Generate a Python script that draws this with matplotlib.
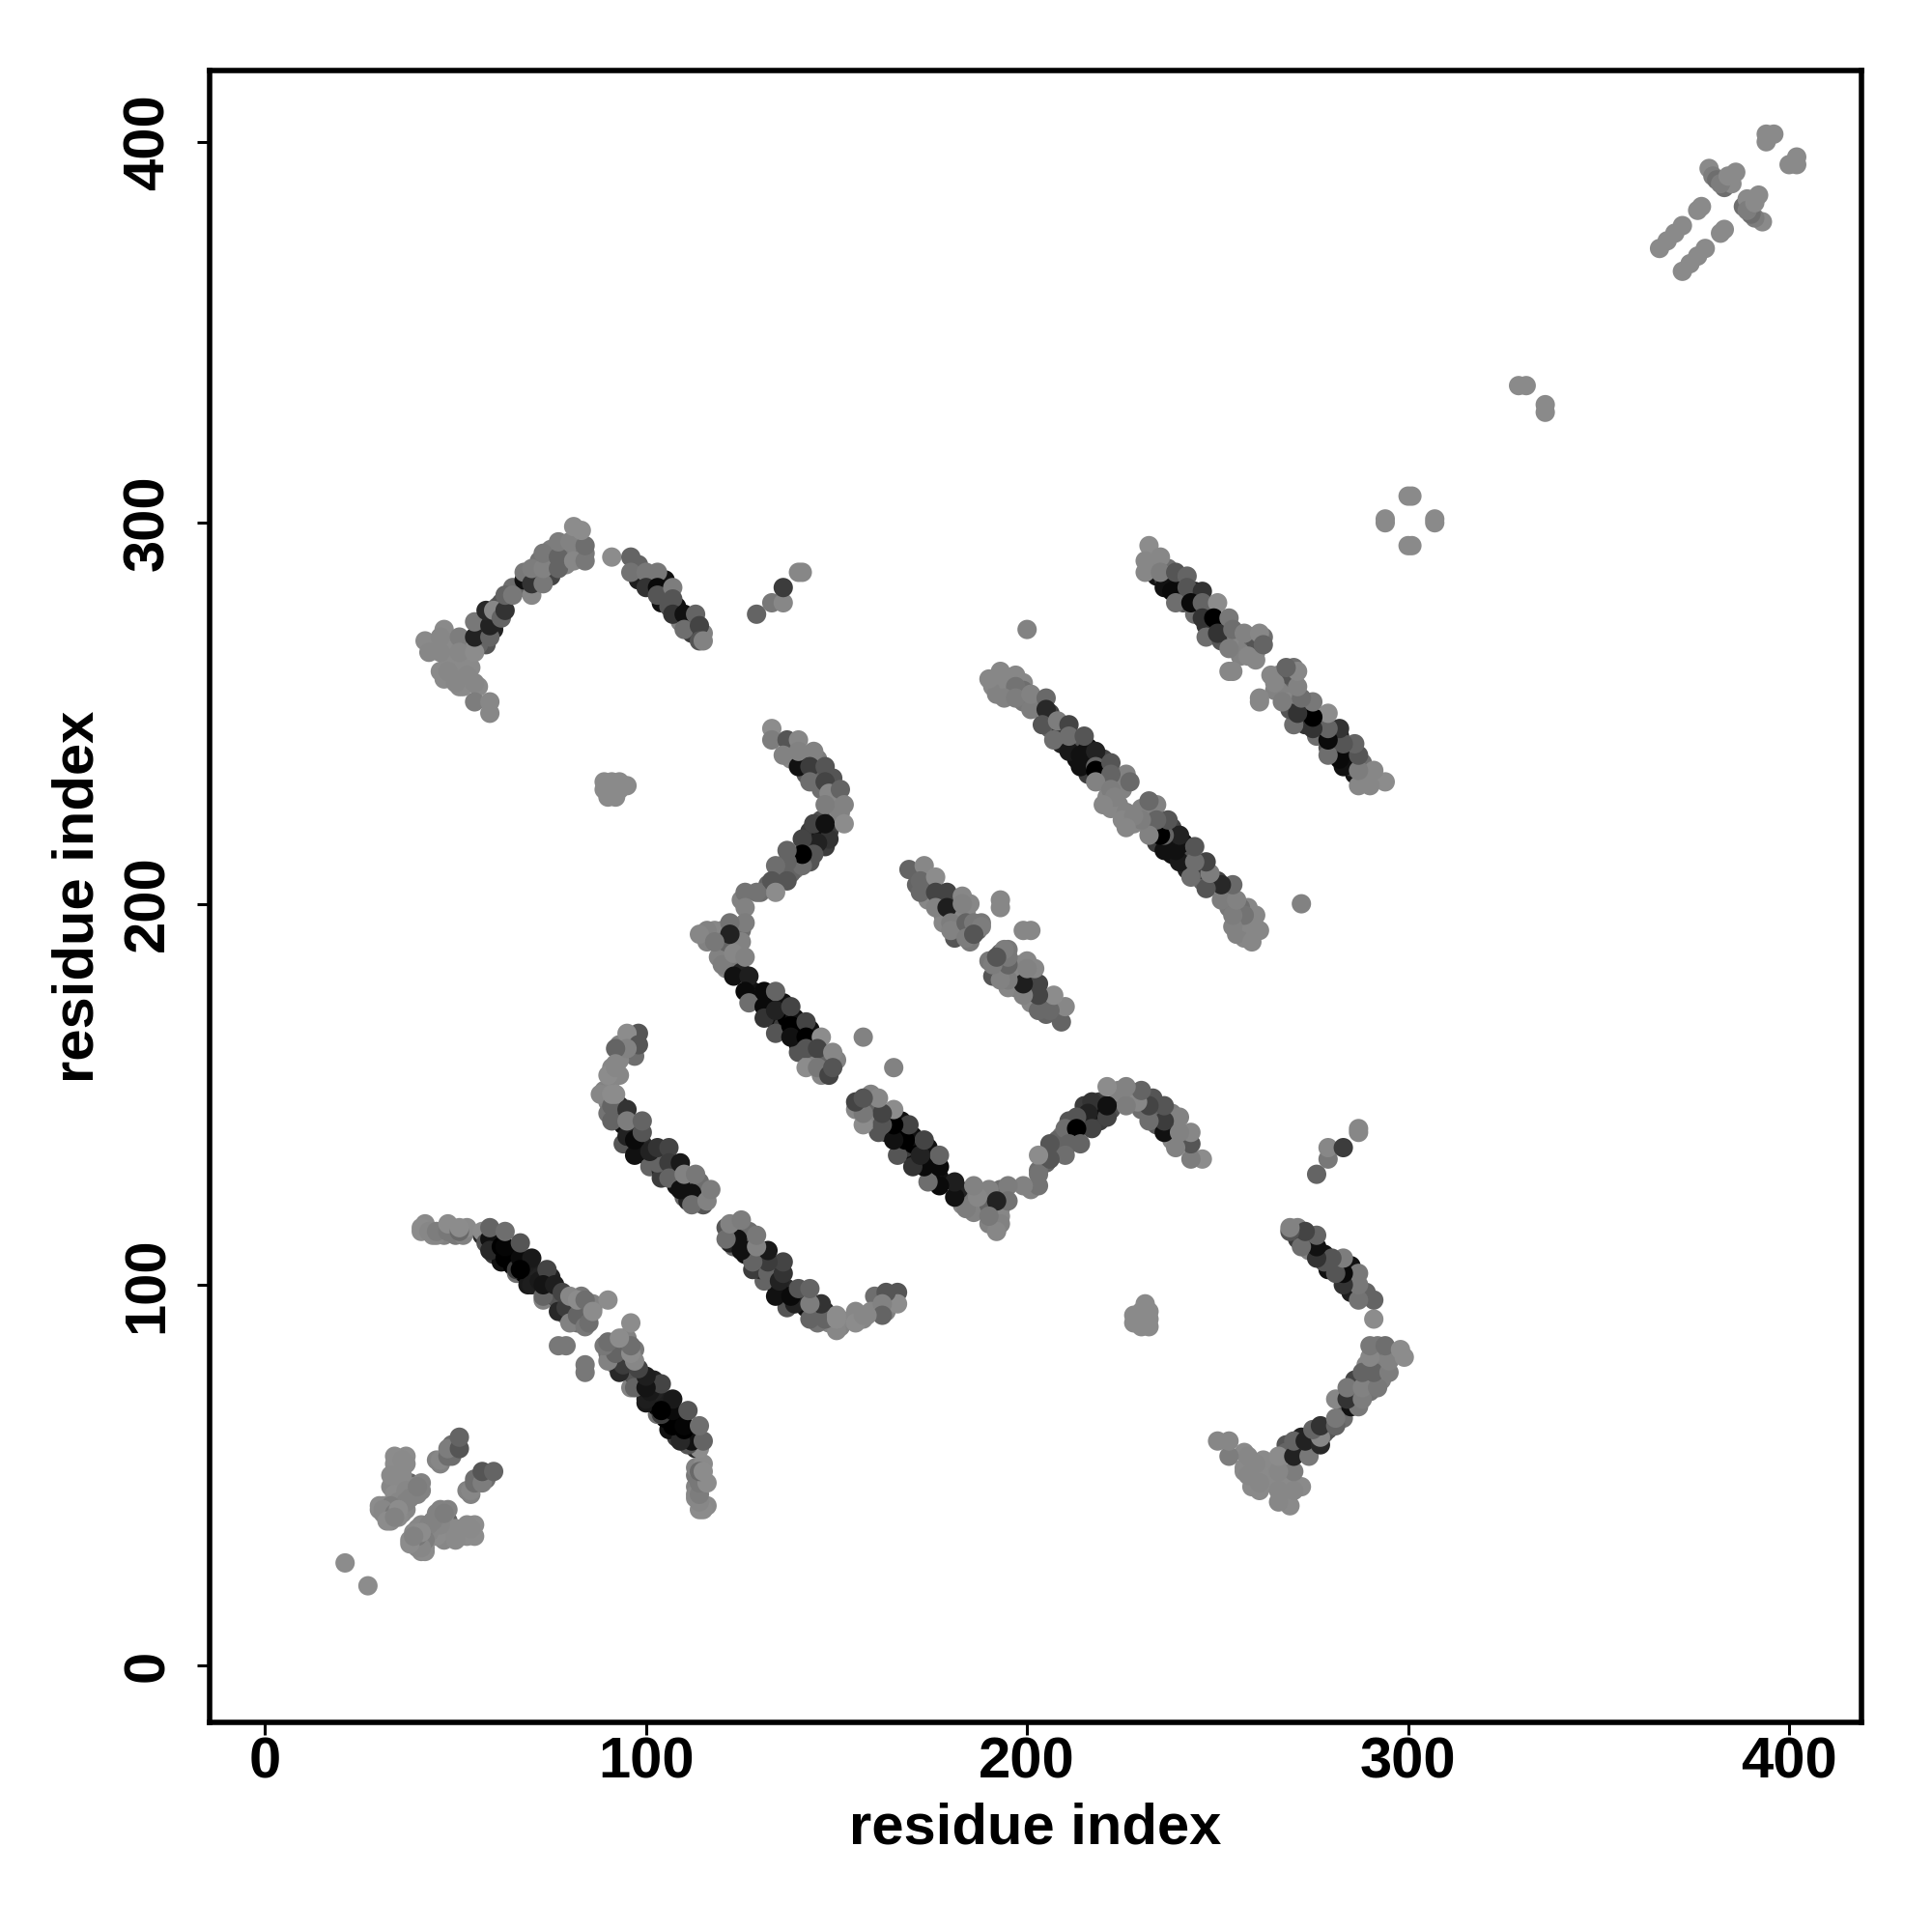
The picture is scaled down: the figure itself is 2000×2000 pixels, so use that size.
import numpy as np
import matplotlib
matplotlib.use("Agg")
import matplotlib.pyplot as plt

plt.rcParams['font.family'] = ['Liberation Sans', 'DejaVu Sans']

# Contacts (i, j, grey level 0-255), read for i < j; the map is symmetric.
near_start = [(21,27,140),(34,50,120),(35,48,125),(36,45,115),(36,52,130),(38,48,100),(34,55,140),(37,55,140),(34,53,140),
              (33,47,135),(35,53,140),(36,54,138),(35,46,138),(39,47,138),(40,45,130),(33,38,138),(30,41,138),(30,42,140),
              (36,43,125),(37,41,135),(34,42,130),(36,40,135),(33,39,135),(35,39,138),(33,50,138),(36,50,138),(37,53,138),
              (34,45,140),(37,46,135),(38,44,130),(41,48,130),(41,46,130),(40,47,125),(35,43,135),(37,43,130),
              (31,42,140),(33,42,125),(31,41,135),(31,40,135),(34,40,120),(35,41,140),(32,38,140),(34,39,130),
              (46,53,130),(49,55,110),(49,58,110),(45,54,130),(46,54,135),(48,55,110),(48,57,125),(51,57,85),(51,60,100)]
strand_a_under = [(57,113,40),(59,110,30),(60,108,60),(61,109,10),(62,106,17),(64,108,0),(65,105,0),(66,103,110),(68,106,5),
                  (68,103,0),(69,100,25),(70,104,17),(71,103,30),(72,102,34),(73,96,130),(74,98,20),(75,102,34),(76,97,40),
                  (77,96,85),(78,93,85),(79,92,130),(80,94,100),(81,95,130),(82,90,110),(83,93,110),(84,91,120),(85,92,110),
                  (83,97,120),(86,94,130),(86,95,130),(42,116,138),(44,113,138),(47,113,130),(50,113,120),(52,113,130),(53,115,138)]
strand_a = [(41,115,140),(41,114,140),(43,114,135),(45,113,135),(45,114,125),(48,114,120),(48,116,140),(51,114,105),(51,115,140),
            (57,114,140),(58,111,85),(59,112,17),(59,109,40),(62,110,0),(63,107,0),(63,110,5),(59,115,100),(63,114,110),
            (66,104,60),(67,107,10),(70,107,25),(67,104,0),(67,111,85),(70,100,30),(73,97,100),(72,101,25),(74,104,68),
            (73,100,20),(76,100,30),(77,93,40),(79,94,60),(78,98,68),(80,90,130),(82,92,100),(84,89,120),(80,97,135),
            (82,96,140),(84,96,110),(85,90,110),(86,93,140),(90,96,140),(77,84,120),(79,84,120)]
strand_b_under = [(89,151,130),(90,148,130),(90,145,115),(92,144,85),(93,147,40),(94,142,17),(96,141,17),(94,137,85),(97,134,17),
                  (99,137,40),(100,134,17),(102,133,34),(101,131,100),(104,130,40),(105,133,17),(104,128,60),(107,130,17),
                  (108,126,17),(108,128,110),(111,127,17),(110,123,100),(111,122,34),(113,122,34),(114,123,125),(115,125,125),
                  (114,127,110),(93,163,130),(96,164,130),(97,160,110),(93,159,135),(91,154,135),(93,155,135),(91,157,135)]
strand_b = [(98,166,85),(95,166,140),(98,163,85),(95,162,130),(92,162,100),(92,158,135),(90,155,140),(92,157,135),
            (88,150,135),(91,147,100),(91,143,100),(92,150,140),(91,150,140),(95,139,34),(95,146,51),(95,143,125),
            (98,135,17),(97,138,10),(99,140,85),(99,143,100),(103,132,100),(101,135,34),(103,136,51),(106,136,68),
            (106,132,60),(106,128,100),(109,132,25),(109,125,17),(112,124,17),(110,129,130),(113,129,120),
            (115,121,85),(112,121,110),(116,122,130),(117,125,125)]
strand_c_under = [(138,238,135),(141,238,85),(142,234,90),(145,238,125),(145,234,100),(146,230,110),(149,233,85),(150,228,130),
                  (149,224,135),(151,224,130),(146,222,80),(148,219,60),(147,215,60),(143,219,60),(146,218,17),(142,215,34),
                  (140,212,34),(143,211,85),(139,209,120),(139,212,68),(138,208,100),(135,208,100),(132,205,100),(130,203,110),
                  (125,201,130),(120,193,130),(118,193,135),(116,190,130),(120,188,130),(119,186,130),(121,190,100),(123,193,110),
                  (125,193,110),(125,190,130),(121,183,135),(124,184,120),(125,182,34),(128,177,17),(128,175,60),(130,175,17),
                  (133,174,17),(133,170,17),(135,170,17),(136,174,17),(136,168,60),(137,170,0),(139,170,17),(140,167,17),
                  (141,167,5),(140,163,17),(140,161,85),(143,167,17),(144,164,40),(146,160,60),(147,157,85),(147,159,100),
                  (144,160,100),(143,158,130),(150,159,130),(146,155,135)]
strand_c = [(133,246,140),(133,243,125),(137,243,85),(136,239,130),(140,243,135),(140,236,17),(140,240,130),(144,240,130),
            (143,236,60),(147,236,85),(143,232,110),(147,232,68),(148,229,135),(151,230,100),(147,226,125),(152,226,130),
            (148,217,51),(144,221,68),(147,221,17),(152,221,140),(145,216,34),(141,217,68),(144,213,85),(141,210,110),
            (141,213,0),(137,214,100),(137,211,100),(134,210,110),(133,206,85),(137,206,85),(134,203,140),(126,203,115),
            (129,203,115),(126,199,130),(126,195,125),(122,195,115),(122,192,34),(116,193,130),(114,192,135),(118,190,120),
            (120,184,125),(123,187,135),(126,186,130),(123,181,17),(127,181,30),(126,177,10),(127,174,110),(131,177,10),
            (134,177,100),(131,173,10),(131,170,51),(134,172,34),(138,173,68),(134,166,85),(138,168,0),(138,165,17),
            (142,169,68),(142,165,0),(146,165,140),(142,162,85),(145,162,68),(149,161,135),(142,157,140),(145,157,120),
            (148,155,68),(149,157,85),(157,165,130)]
strand_d_under = [(171,205,100),(174,205,68),(174,201,135),(177,201,17),(181,201,17),(178,197,120),(181,197,68),(178,195,135),
                  (182,193,80),(181,191,85),(183,193,70),(185,190,120),(187,193,100),(188,195,120),(184,198,135),(185,200,135),
                  (182,199,135)]
strand_d = [(169,209,100),(173,210,135),(172,206,105),(176,207,140),(172,203,105),(176,203,68),(179,203,68),(176,199,130),
            (179,199,30),(183,202,135),(183,200,130),(180,195,125),(180,193,130),(184,195,100),(186,195,120),(188,194,125),
            (184,191,125),(186,192,85),(193,199,135),(193,201,135)]
strand_e_under = [(191,257,135),(192,255,130),(195,258,135),(199,258,135),(199,256,110),(203,252,125),(199,253,120),(206,250,68),
                  (206,246,100),(209,245,17),(209,242,34),(209,246,60),(212,242,17),(213,243,85),(213,238,17),(216,238,17),
                  (216,241,17),(216,234,60),(220,234,60),(220,238,68),(220,232,125),(224,233,110),(221,228,135),(225,230,130),
                  (224,226,130),(222,225,135),(226,234,130)]
strand_e = [(190,259,135),(193,261,135),(197,260,135),(197,257,115),(194,254,130),(197,254,125),(201,251,125),(201,255,130),
            (205,254,105),(205,251,40),(204,247,85),(208,248,125),(211,247,68),(207,243,110),(211,240,25),(211,244,110),
            (215,244,85),(214,239,17),(218,240,34),(214,236,17),(218,236,100),(218,235,0),(222,237,85),(222,234,100),
            (218,232,130),(222,230,125),(227,232,105),(223,228,130),(220,226,135),(200,272,130)]
strand_f_under = [(233,289,130),(234,286,20),(236,285,60),(236,283,17),(237,288,110),(240,284,17),(240,281,60),(241,279,85),
                  (244,282,34),(245,280,17),(244,276,110),(248,277,85),(247,273,51),(247,270,110),(251,273,17),(251,269,85),
                  (252,271,51),(255,270,125),(255,267,130),(256,268,135),(258,268,130),(259,270,100),(260,266,130),(260,269,85),
                  (256,265,130),(262,270,110),(260,264,135)]
strand_f = [(232,294,140),(231,290,135),(235,291,135),(231,287,135),(235,287,125),(238,282,10),(239,287,85),(242,286,100),
            (242,283,85),(246,282,51),(239,279,110),(243,279,10),(246,279,100),(250,279,140),(246,275,51),(249,275,0),
            (253,275,120),(250,271,51),(254,272,110),(253,267,125),(257,271,130),(258,265,135),(261,271,135),(262,268,100),
            (253,261,135),(254,261,135)]
strand_g_under = [(42,269,138),(44,268,138),(47,272,138),(48,268,138),(49,263,138),(46,261,138),(48,264,138),(50,261,138),
                  (52,266,138),(47,259,138),(51,257,138),(53,265,138),(54,262,138),(52,257,138),(56,257,138),(57,272,68),
                  (58,268,85),(56,268,100),(60,275,17),(60,272,34),(61,278,100),(62,279,85),(65,283,110),(68,283,100),
                  (68,285,17),(68,287,120),(71,286,100),(72,290,115),(75,286,68),(75,290,120),(75,293,125),(79,292,125),
                  (79,289,135),(82,293,130),(84,292,120),(98,285,30),(98,289,100),(101,284,17),(105,282,34),(105,285,17),
                  (104,279,17),(106,278,85),(108,278,17),(111,274,60),(109,274,130),(112,271,60),(112,273,17),(115,271,130)]
strand_g = [(43,266,135),(46,270,135),(46,266,135),(51,270,125),(51,266,135),(48,261,135),(50,258,135),(53,260,135),
            (55,258,135),(55,253,125),(59,253,135),(59,250,135),(55,266,140),(55,270,34),(55,274,120),(59,270,100),
            (59,273,34),(58,277,40),(60,277,135),(62,275,100),(63,277,51),(63,281,100),(65,281,120),(70,281,135),
            (70,284,51),(70,288,125),(73,284,120),(73,288,130),(73,292,120),(77,288,100),(77,291,100),(77,295,125),
            (80,295,130),(81,290,135),(84,290,120),(84,294,110),(81,299,140),(83,298,140),(91,291,140),(96,291,100),
            (96,287,115),(100,287,120),(103,287,120),(100,283,51),(103,283,10),(103,281,85),(107,283,125),(107,280,85),
            (107,276,51),(110,276,17),(110,272,110),(113,276,100),(114,273,68),(114,269,85),(115,269,130)]
far_pairs = [(129,276,100),(133,279,120),(136,279,135),(136,283,60),(140,287,135),(141,287,135),
             (90,228,138),(91,230,138),(93,230,138),(95,231,138),(91,232,138),(92,228,138),(93,232,138),(89,230,138),(89,232,138)]
near_end = [(294,300,138),(294,301,138),(300,307,138),(301,307,138),(329,336,138),(331,336,138),
            (366,372,138),(368,374,138),(370,376,138),(372,378,138),(376,382,138),(377,383,138),
            (379,393,138),(380,391,125),(383,388,110),(385,389,138),(381,390,110),(382,389,125),(384,391,138),(386,392,138),
            (394,400,138),(394,402,138),(396,402,138)]

strands = [near_start, strand_a_under, strand_a, strand_b_under, strand_b, strand_c_under, strand_c,
           strand_d_under, strand_d, strand_e_under, strand_e, strand_f_under, strand_f,
           strand_g_under, strand_g, far_pairs, near_end]
contacts = np.array([row for s in strands for row in s], dtype=float)
res_i, res_j, grey = contacts[:, 0], contacts[:, 1], contacts[:, 2] / 255.0

x_ticks = [0, 100, 200, 300, 400]
y_ticks = [0, 100, 200, 300, 400]

fig = plt.figure(figsize=(10, 10), dpi=200)
ax = fig.add_axes([217/2000, 1 - 1783/2000, 1710/2000, 1710/2000])
ax.scatter(np.r_[res_i, res_j], np.r_[res_j, res_i], s=52, c=np.r_[grey, grey],
           cmap='gray', vmin=0, vmax=1, linewidths=0, clip_on=True)
ax.set_xlim(-14.55, 419.0)
ax.set_ylim(-14.85, 418.7)
ax.set_xticks(x_ticks)
ax.set_yticks(y_ticks)
for sp in ax.spines.values():
    sp.set_linewidth(2.0)
ax.tick_params(length=4.6, width=1.1, labelsize=21.5)
ax.tick_params(axis='x', pad=0.5)
ax.tick_params(axis='y', pad=8.3)
for t in ax.get_xticklabels():
    t.set_fontweight('bold')
for t in ax.get_yticklabels():
    t.set_fontweight('bold')
    t.set_rotation(90)
    t.set_va('center')
ax.set_xlabel('residue index', fontsize=21.5, fontweight='bold', labelpad=4.8)
ax.set_ylabel('residue index', fontsize=21.5, fontweight='bold', labelpad=6.3)
fig.savefig('out.png', dpi=200, facecolor='white')
